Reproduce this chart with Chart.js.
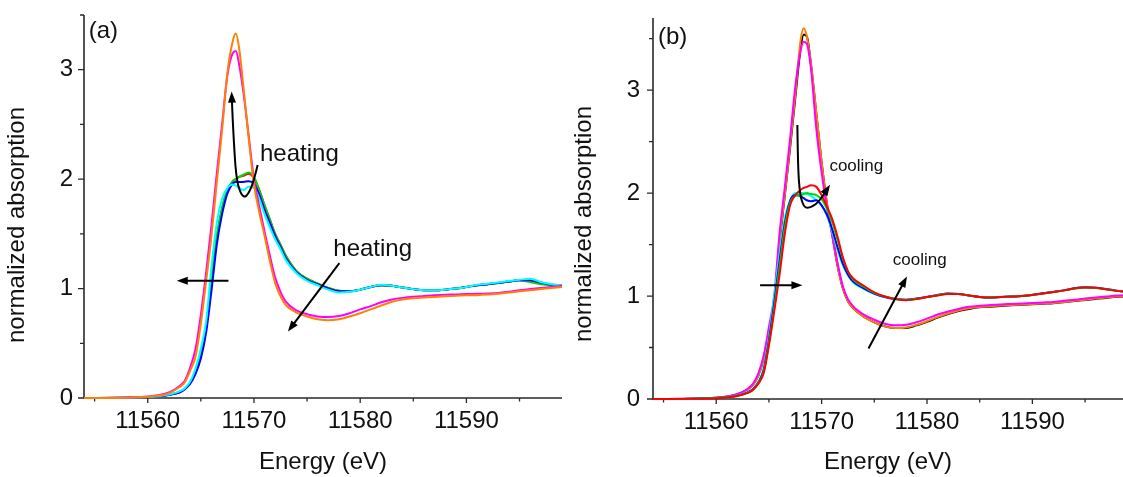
<!DOCTYPE html>
<html>
<head>
<meta charset="utf-8">
<script src="https://cdn.jsdelivr.net/npm/chart.js@4.4.0/dist/chart.umd.min.js"></script>
<style>
    html, body { margin: 0; padding: 0; background: #fff; }
    #wrap { position: relative; width: 1123px; height: 477px; overflow: hidden; }
    canvas { position: absolute; top: 0; }
</style>
</head>
<body>
<div id="wrap">
    <canvas id="panelA" width="562" height="477" style="left:0"></canvas>
    <canvas id="panelB" width="561" height="477" style="left:562px"></canvas>
</div>
<script>
// energy grid shared by every spectrum (eV)
const energy = [11554, 11558, 11560, 11561, 11562, 11563, 11563.5, 11564, 11564.5, 11565,
    11565.5, 11566, 11566.5, 11567, 11567.5, 11568, 11568.3, 11568.6, 11569, 11569.5,
    11570, 11570.5, 11571, 11571.5, 11572, 11572.5, 11573, 11574, 11575, 11576,
    11577, 11578, 11579, 11580, 11581, 11582, 11583, 11584, 11585, 11586,
    11587, 11588, 11589, 11590, 11591, 11592, 11593, 11594, 11595, 11596,
    11597, 11598, 11599];

// panel (a) - heating
const redA = [0, 0.003, 0.008, 0.016, 0.03, 0.055, 0.085, 0.14, 0.24, 0.4,
    0.65, 1.07, 1.47, 1.73, 1.9, 1.98, 2.0, 2.02, 2.03, 2.05,
    2.01, 1.9, 1.76, 1.63, 1.5, 1.4, 1.3, 1.16, 1.09, 1.045,
    1.005, 0.98, 0.975, 0.99, 1.015, 1.03, 1.025, 1.01, 0.995, 0.985,
    0.985, 0.99, 1.0, 1.015, 1.03, 1.04, 1.05, 1.065, 1.075, 1.07,
    1.05, 1.035, 1.03];
const greenA = [0, 0.003, 0.008, 0.016, 0.03, 0.055, 0.085, 0.14, 0.24, 0.4,
    0.65, 1.08, 1.48, 1.74, 1.9, 1.98, 2.0, 2.02, 2.04, 2.06,
    2.02, 1.9, 1.76, 1.63, 1.5, 1.4, 1.3, 1.16, 1.09, 1.045,
    1.005, 0.98, 0.975, 0.99, 1.015, 1.03, 1.025, 1.01, 0.995, 0.985,
    0.985, 0.99, 1.0, 1.015, 1.03, 1.04, 1.05, 1.065, 1.075, 1.06,
    1.04, 1.03, 1.025];
const blueA = [0, 0.003, 0.008, 0.015, 0.028, 0.05, 0.08, 0.13, 0.22, 0.36,
    0.6, 0.98, 1.4, 1.68, 1.87, 1.96, 1.975, 1.975, 1.975, 1.98,
    1.96, 1.86, 1.72, 1.6, 1.48, 1.38, 1.28, 1.15, 1.08, 1.04,
    1.0, 0.975, 0.975, 0.99, 1.015, 1.03, 1.025, 1.01, 0.995, 0.985,
    0.985, 0.99, 1.0, 1.015, 1.03, 1.04, 1.05, 1.065, 1.075, 1.075,
    1.055, 1.035, 1.03];
const cyanA = [0, 0.003, 0.009, 0.017, 0.032, 0.06, 0.09, 0.15, 0.27, 0.45,
    0.7, 1.2, 1.6, 1.82, 1.92, 1.95, 1.94, 1.92, 1.9, 1.93,
    1.92, 1.82, 1.68, 1.56, 1.45, 1.36, 1.26, 1.14, 1.07, 1.03,
    0.99, 0.965, 0.97, 0.99, 1.015, 1.035, 1.025, 1.01, 0.995, 0.985,
    0.985, 0.99, 1.0, 1.015, 1.035, 1.045, 1.055, 1.07, 1.08, 1.09,
    1.06, 1.04, 1.03];
const magentaA = [0, 0.004, 0.014, 0.025, 0.05, 0.11, 0.16, 0.28, 0.45, 0.76,
    1.15, 1.58, 2.05, 2.5, 2.95, 3.15, 3.17, 3.05, 2.8, 2.4,
    2.0, 1.75, 1.52, 1.3, 1.1, 0.97, 0.88, 0.8, 0.765, 0.745,
    0.74, 0.75, 0.775, 0.81, 0.84, 0.875, 0.9, 0.915, 0.925, 0.932,
    0.938, 0.943, 0.946, 0.95, 0.952, 0.955, 0.96, 0.97, 0.985, 0.995,
    1.005, 1.015, 1.025];
const orangeA = [0, 0.003, 0.012, 0.022, 0.045, 0.1, 0.145, 0.25, 0.38, 0.68,
    1.07, 1.48, 1.97, 2.45, 2.97, 3.26, 3.33, 3.2, 2.85, 2.38,
    1.95, 1.7, 1.48, 1.25, 1.05, 0.93, 0.85, 0.78, 0.745, 0.72,
    0.71, 0.72, 0.745, 0.775, 0.81, 0.845, 0.88, 0.9, 0.912, 0.918,
    0.924, 0.93, 0.935, 0.938, 0.94, 0.945, 0.952, 0.965, 0.975, 0.985,
    0.995, 1.005, 1.015];

// panel (b) - cooling
const blackB = [0, 0.003, 0.012, 0.022, 0.044, 0.095, 0.14, 0.23, 0.39, 0.65,
    0.95, 1.5, 1.97, 2.43, 2.92, 3.4, 3.54, 3.52, 3.24, 2.77,
    2.3, 1.9, 1.6, 1.3, 1.08, 0.95, 0.88, 0.8, 0.745, 0.705,
    0.69, 0.69, 0.715, 0.75, 0.79, 0.825, 0.855, 0.875, 0.89, 0.897,
    0.904, 0.91, 0.915, 0.92, 0.925, 0.93, 0.94, 0.952, 0.962, 0.972,
    0.982, 0.992, 0.998];
const orangeB = [0, 0.003, 0.012, 0.022, 0.044, 0.095, 0.14, 0.23, 0.39, 0.65,
    0.95, 1.52, 1.98, 2.45, 2.95, 3.48, 3.6, 3.52, 3.25, 2.78,
    2.3, 1.9, 1.6, 1.3, 1.08, 0.95, 0.88, 0.8, 0.745, 0.705,
    0.69, 0.695, 0.72, 0.755, 0.795, 0.83, 0.86, 0.88, 0.893, 0.9,
    0.907, 0.913, 0.918, 0.923, 0.928, 0.933, 0.942, 0.955, 0.965, 0.975,
    0.985, 0.995, 1.0];
const magentaB = [0, 0.004, 0.013, 0.024, 0.048, 0.1, 0.15, 0.25, 0.42, 0.7,
    1.0, 1.6, 2.05, 2.52, 3.03, 3.38, 3.47, 3.45, 3.2, 2.62,
    2.2, 1.86, 1.6, 1.33, 1.1, 0.97, 0.9, 0.82, 0.77, 0.73,
    0.715, 0.72, 0.745, 0.78, 0.82, 0.85, 0.875, 0.895, 0.905, 0.912,
    0.918, 0.923, 0.928, 0.933, 0.938, 0.943, 0.953, 0.965, 0.975, 0.985,
    0.995, 1.005, 1.01];
const cyanB = [0, 0.003, 0.009, 0.017, 0.034, 0.07, 0.1, 0.17, 0.3, 0.6,
    1.0, 1.4, 1.75, 1.93, 2.0, 2.0, 2.0, 1.99, 1.97, 1.93,
    1.88, 1.78, 1.63, 1.45, 1.3, 1.2, 1.13, 1.07, 1.02, 0.99,
    0.97, 0.965, 0.975, 0.99, 1.01, 1.025, 1.02, 1.005, 0.99, 0.985,
    0.99, 0.995, 1.0, 1.01, 1.025, 1.04, 1.055, 1.075, 1.085, 1.08,
    1.065, 1.05, 1.04];
const blueB = [0, 0.003, 0.009, 0.016, 0.032, 0.065, 0.095, 0.16, 0.28, 0.57,
    0.93, 1.33, 1.7, 1.92, 1.98, 1.97, 1.95, 1.93, 1.92, 1.93,
    1.88, 1.79, 1.65, 1.48, 1.32, 1.21, 1.14, 1.075, 1.025, 0.99,
    0.97, 0.963, 0.975, 0.99, 1.01, 1.025, 1.02, 1.005, 0.99, 0.985,
    0.99, 0.995, 1.0, 1.012, 1.027, 1.04, 1.055, 1.075, 1.085, 1.08,
    1.068, 1.052, 1.04];
const greenB = [0, 0.003, 0.009, 0.016, 0.031, 0.062, 0.09, 0.155, 0.26, 0.54,
    0.88, 1.27, 1.66, 1.9, 1.97, 1.98, 1.99, 2.0, 1.99, 1.98,
    1.94, 1.85, 1.72, 1.55, 1.37, 1.24, 1.16, 1.09, 1.03, 0.995,
    0.972, 0.962, 0.972, 0.99, 1.008, 1.022, 1.02, 1.005, 0.99, 0.985,
    0.99, 0.995, 1.0, 1.01, 1.025, 1.04, 1.055, 1.072, 1.082, 1.078,
    1.065, 1.05, 1.04];
const redB = [0, 0.003, 0.008, 0.015, 0.03, 0.06, 0.09, 0.15, 0.25, 0.52,
    0.85, 1.2, 1.6, 1.88, 1.98, 2.03, 2.05, 2.06, 2.075, 2.06,
    1.98, 1.87, 1.75, 1.58, 1.38, 1.24, 1.17, 1.1, 1.035, 0.995,
    0.97, 0.96, 0.97, 0.99, 1.005, 1.02, 1.02, 1.005, 0.99, 0.985,
    0.99, 0.995, 1.0, 1.01, 1.025, 1.04, 1.055, 1.075, 1.083, 1.08,
    1.065, 1.05, 1.04];

// axis ticks
const xMajor = [11560, 11570, 11580, 11590];
const xMinor = [11555, 11565, 11575, 11585, 11595];
const yMajor = [0, 1, 2, 3];
const yMinor = [0.5, 1.5, 2.5, 3.5];

const FONT = "'Liberation Sans', Arial, Helvetica, sans-serif";
const INK = '#111';

function makeDataset(values, color) {
    return {
        data: energy.map((e, i) => ({ x: e, y: values[i] })),
        borderColor: color,
        borderWidth: 2,
        pointRadius: 0,
        fill: false,
        cubicInterpolationMode: 'monotone',
        clip: { left: 0, top: 0, right: 0, bottom: 3 }
    };
}

// smooth path through pixel points (midpoint quadratic)
function tracePath(ctx, p) {
    ctx.moveTo(p[0][0], p[0][1]);
    for (let i = 1; i < p.length - 1; i++) {
        const mx = (p[i][0] + p[i + 1][0]) / 2, my = (p[i][1] + p[i + 1][1]) / 2;
        ctx.quadraticCurveTo(p[i][0], p[i][1], mx, my);
    }
    const n = p.length - 1;
    ctx.lineTo(p[n][0], p[n][1]);
}

function arrowHead(ctx, from, tip) {
    const ang = Math.atan2(tip[1] - from[1], tip[0] - from[0]);
    const len = 11, half = 4;
    const c = Math.cos(ang), s = Math.sin(ang);
    ctx.beginPath();
    ctx.moveTo(tip[0], tip[1]);
    ctx.lineTo(tip[0] - len * c + half * s, tip[1] - len * s - half * c);
    ctx.lineTo(tip[0] - len * c - half * s, tip[1] - len * s + half * c);
    ctx.closePath();
    ctx.fill();
}

function decorPlugin(panel) {
    return {
        id: 'decor',
        beforeDatasetsDraw(chart) {
            const { ctx, chartArea: a, scales: { x, y } } = chart;
            ctx.save();
            ctx.strokeStyle = '#2a2a2a';
            ctx.lineWidth = 1.6;
            ctx.beginPath();
            ctx.moveTo(a.left, a.top);
            ctx.lineTo(a.left, a.bottom);
            ctx.lineTo(a.right, a.bottom);
            ctx.stroke();

            ctx.lineWidth = 1.3;
            ctx.beginPath();
            xMajor.forEach(v => { const px = x.getPixelForValue(v); ctx.moveTo(px, a.bottom); ctx.lineTo(px, a.bottom + 5); });
            xMinor.forEach(v => { const px = x.getPixelForValue(v); ctx.moveTo(px, a.bottom); ctx.lineTo(px, a.bottom + 3.5); });
            yMajor.forEach(v => { const py = y.getPixelForValue(v); ctx.moveTo(a.left, py); ctx.lineTo(a.left - 6, py); });
            yMinor.forEach(v => { const py = y.getPixelForValue(v); ctx.moveTo(a.left, py); ctx.lineTo(a.left - 4, py); });
            ctx.stroke();

            // y axis title
            ctx.fillStyle = INK;
            ctx.font = '24px ' + FONT;
            ctx.translate(panel.yTitle[0], panel.yTitle[1]);
            ctx.rotate(-Math.PI / 2);
            ctx.textAlign = 'center';
            ctx.textBaseline = 'alphabetic';
            ctx.fillText('normalized absorption', 0, 0);
            ctx.restore();
        },
        afterDatasetsDraw(chart) {
            const { ctx, scales: { x, y } } = chart;
            const px = pt => [x.getPixelForValue(pt[0]), y.getPixelForValue(pt[1])];
            ctx.save();
            ctx.strokeStyle = '#000';
            ctx.fillStyle = '#000';
            ctx.lineWidth = 2;
            panel.arrows.forEach(arr => {
                const p = arr.map(px);
                const n = p.length - 1;
                const ang = Math.atan2(p[n][1] - p[n - 1][1], p[n][0] - p[n - 1][0]);
                const end = p.slice();
                end[n] = [p[n][0] - 8 * Math.cos(ang), p[n][1] - 8 * Math.sin(ang)];
                ctx.beginPath();
                tracePath(ctx, end);
                ctx.stroke();
                arrowHead(ctx, p[n - 1], p[n]);
            });
            ctx.fillStyle = INK;
            ctx.textAlign = 'left';
            panel.labels.forEach(l => {
                ctx.font = l.size + 'px ' + FONT;
                ctx.textBaseline = l.base;
                ctx.fillText(l.text, x.getPixelForValue(l.x), y.getPixelForValue(l.y));
            });
            ctx.restore();
        }
    };
}

function buildChart(canvasId, panel) {
    const ctx = document.getElementById(canvasId).getContext('2d');
    const tickFont = { family: FONT, size: 24 };
    return new Chart(ctx, {
        type: 'line',
        // chart.js paints the first dataset on top, so series are listed top-first
        data: { datasets: panel.series.map(s => makeDataset(s[0], s[1])) },
        options: {
            responsive: false,
            animation: false,
            devicePixelRatio: 1,
            layout: { padding: { top: panel.top, right: 0, bottom: 0, left: 0 } },
            plugins: { legend: { display: false }, tooltip: { enabled: false } },
            scales: {
                x: {
                    type: 'linear',
                    bounds: 'data',
                    min: 11554,
                    max: panel.xMax,
                    grid: { display: false, drawTicks: false },
                    border: { display: false },
                    afterBuildTicks: s => { s.ticks = xMajor.map(v => ({ value: v })); },
                    afterFit: s => { s.height = 477 - panel.bottom; s.paddingLeft = 0; s.paddingRight = 0; },
                    ticks: { padding: 9, color: INK, font: tickFont, maxRotation: 0, autoSkip: false, callback: v => String(v) },
                    title: { display: true, text: 'Energy (eV)', color: INK, font: { family: FONT, size: 24 }, padding: 0 }
                },
                y: {
                    type: 'linear',
                    bounds: 'data',
                    min: 0,
                    max: panel.yMax,
                    grid: { display: false, drawTicks: false },
                    border: { display: false },
                    afterBuildTicks: s => { s.ticks = yMajor.map(v => ({ value: v })); },
                    afterFit: s => { s.width = panel.left; s.paddingTop = 0; s.paddingBottom = 0; },
                    ticks: { padding: panel.yPad, color: INK, font: tickFont, autoSkip: false, callback: v => String(v) }
                }
            }
        },
        plugins: [decorPlugin(panel)]
    });
}

buildChart('panelA', {
    left: 84, top: 15, bottom: 398, xMax: 11599, yMax: 3.5, yPad: 11,
    yTitle: [24, 225],
    series: [[orangeA, '#ff8000'], [magentaA, '#ff00ff'], [cyanA, '#00ffff'], [blueA, '#0000ff'],
             [greenA, '#00d800'], [redA, '#ff0000']],
    arrows: [
        [[11567.6, 1.071], [11562.73, 1.071]],
        [[11578.04, 1.233], [11573.2, 0.607]],
        [[11570.35, 2.13], [11569.95, 1.97], [11569.45, 1.86], [11569.05, 1.83], [11568.6, 1.9],
         [11568.3, 2.05], [11568.1, 2.35], [11567.95, 2.65], [11567.9, 2.8]]
    ],
    labels: [
        { text: '(a)', x: 11554.45, y: 3.352, size: 24, base: 'middle' },
        { text: 'heating', x: 11570.57, y: 2.164, size: 24, base: 'alphabetic' },
        { text: 'heating', x: 11577.47, y: 1.30, size: 24, base: 'alphabetic' }
    ]
});

buildChart('panelB', {
    left: 91, top: 18, bottom: 399, xMax: 11598.6, yMax: 3.7, yPad: 13,
    yTitle: [29, 224],
    series: [[redB, '#ff0000'], [greenB, '#00d800'], [blueB, '#0000ff'], [cyanB, '#00ffff'],
             [magentaB, '#ff00ff'], [orangeB, '#ff8000'], [blackB, '#000000']],
    arrows: [
        [[11564.16, 1.105], [11568.18, 1.105]],
        [[11574.45, 0.49], [11578.1, 1.19]],
        [[11567.7, 2.66], [11567.75, 2.25], [11567.95, 1.98], [11568.3, 1.87], [11568.7, 1.85],
         [11569.5, 1.89], [11570.1, 1.97], [11570.8, 2.08]]
    ],
    labels: [
        { text: '(b)', x: 11554.47, y: 3.515, size: 24, base: 'middle' },
        { text: 'cooling', x: 11570.74, y: 2.216, size: 17, base: 'alphabetic' },
        { text: 'cooling', x: 11576.76, y: 1.30, size: 17, base: 'alphabetic' }
    ]
});
</script>
</body>
</html>
